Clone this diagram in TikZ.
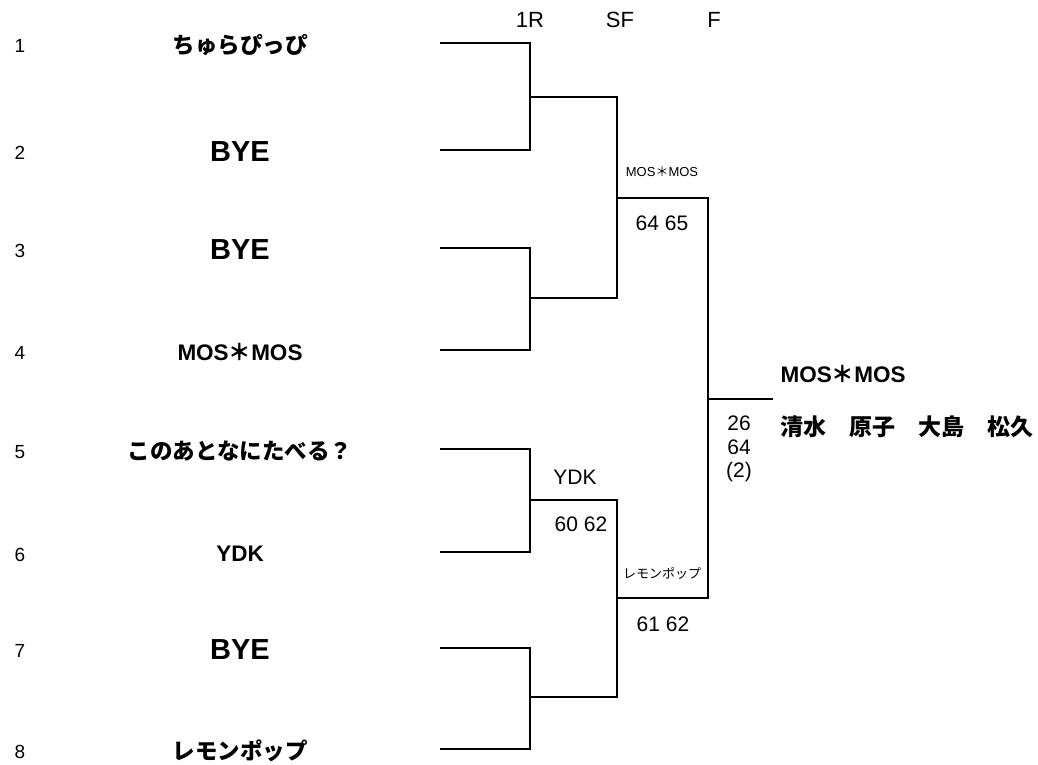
\documentclass[tikz,border=0pt]{standalone}
\usepackage{fontspec}
\setmainfont{Liberation Sans}
\newfontfamily\jp{Noto Sans CJK JP}
\newcommand\mosmos{MOS{\jp ＊}MOS}
\begin{document}
\begin{tikzpicture}[x=1pt,y=-1pt,line width=2.6pt,
  seed/.style={font=\fontsize{19}{19}\selectfont},
  team/.style={font=\bfseries\fontsize{22.5}{22.5}\selectfont},
  bye/.style={font=\bfseries\fontsize{29}{29}\selectfont},
  score/.style={font=\fontsize{21}{23.5}\selectfont},
  small/.style={font=\fontsize{13}{13}\selectfont},
  rnd/.style={font=\fontsize{22}{22}\selectfont}]
  \useasboundingbox (0,0) rectangle (1038,764);
  % round headers
  \node[rnd] (h1) at (530,20) {1R};
  \node[rnd] (h2) at (620,20) {SF};
  \node[rnd] (h3) at (714,20) {F};
  % draw positions
  \foreach \i/\y/\name/\sty in {1/43/{\jp ちゅらぴっぴ}/team, 2/150/BYE/bye, 3/248/BYE/bye,
      4/350/\mosmos/team, 5/449/{\jp このあとなにたべる？}/team, 6/552/YDK/team,
      7/648/BYE/bye, 8/749/{\jp レモンポップ}/team}{
    \node[seed] (n\i) at (20,\y+3) {\i};
    \node[\sty] (t\i) at (240,\y+2) {\name};
    \coordinate (p\i) at (440,\y);
  }
  % joins
  \coordinate (j1) at (530,97);
  \coordinate (j2) at (530,298);
  \coordinate (j3) at (530,500);
  \coordinate (j4) at (530,697);
  \coordinate (k1) at (617,198);
  \coordinate (k2) at (617,598);
  \coordinate (f) at (708,399);
  \coordinate (w) at (773,399);
  \draw (p1) -| (j1) |- (p2);
  \draw (p3) -| (j2) |- (p4);
  \draw (p5) -| (j3) |- (p6);
  \draw (p7) -| (j4) |- (p8);
  \draw (j1) -| (k1) |- (j2);
  \draw (j3) -| (k2) |- (j4);
  \draw (k1) -| (f) |- (k2);
  \draw (f) -- (w);
  % results
  \node[small] (sf1) at (662,172) {\mosmos};
  \node[score] (sc1) at (662,223) {64 65};
  \node[score] (sf2) at (575,477) {YDK};
  \node[score] (sc2) at (581,524) {60 62};
  \node[small] (sf3) at (662,573) {\jp レモンポップ};
  \node[score] (sc3) at (663,624) {61 62};
  \node[score,align=center] (sc4) at (739,449) {26\\64\\(2)};
  \node[team,anchor=west] (win) at (776,374) {\mosmos};
  \node[team,anchor=west,font=\jp\bfseries\fontsize{23}{23}\selectfont] (mem) at (776,427) {清水　原子　大島　松久};
\end{tikzpicture}
\end{document}
